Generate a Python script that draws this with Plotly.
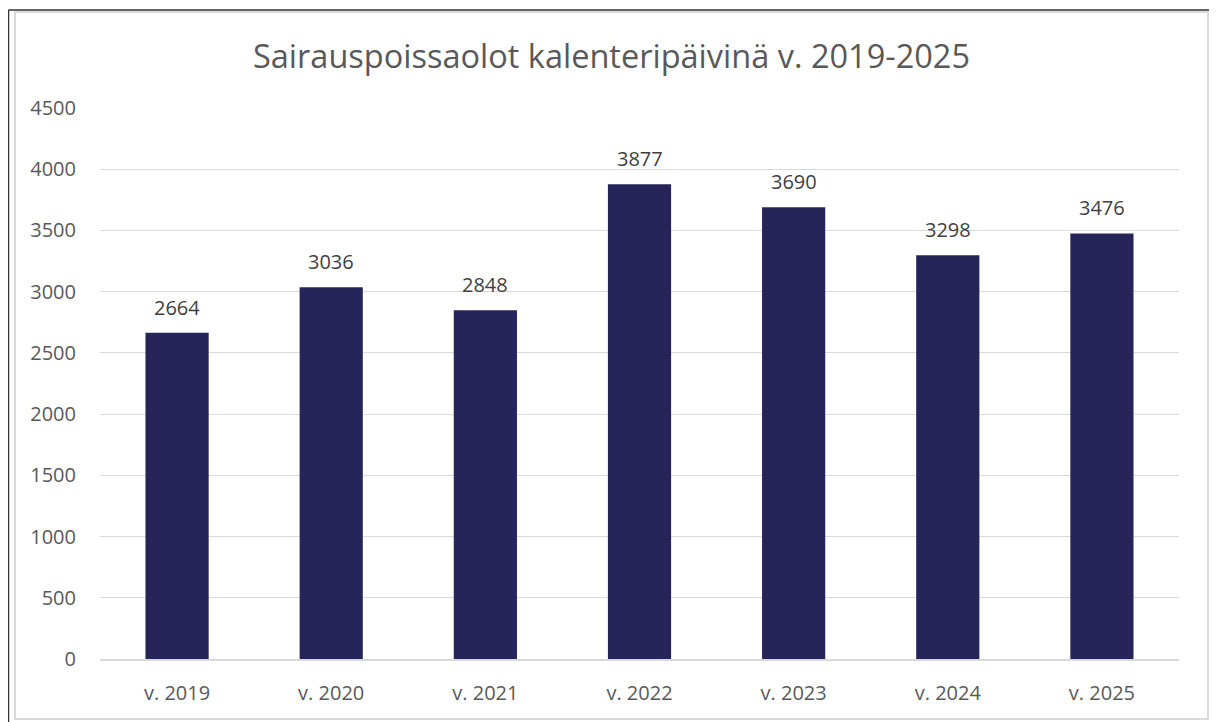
import plotly.graph_objects as go

categories = ["v. 2019", "v. 2020", "v. 2021", "v. 2022", "v. 2023", "v. 2024", "v. 2025"]
values = [2664, 3036, 2848, 3877, 3690, 3298, 3476]
y_ticks = [0, 500, 1000, 1500, 2000, 2500, 3000, 3500, 4000, 4500]
title_text = "Sairauspoissaolot kalenteripäivinä v. 2019-2025"

# the page body has an 8px margin, so the figure is drawn 8px in from the window edge
OFF = 8
W, H = 1217 - OFF, 722 - OFF
ML, MR, MT, MB = 100 - OFF, 38, 108 - OFF, 63
PW, PH = W - ML - MR, H - MT - MB

def px(x):
    return (x - OFF - ML) / PW

def py(y):
    return (H - MB - (y - OFF)) / PH

FONT = "Open Sans"

fig = go.Figure()
fig.add_trace(go.Bar(
    x=categories, y=values,
    marker=dict(color="#262459", line=dict(width=0)),
    width=0.41,
    hoverinfo="x+y",
))

annotations = []
for c, v in zip(categories, values):
    annotations.append(dict(
        x=c, y=v, xref="x", yref="y", text=str(v), showarrow=False,
        yanchor="bottom", yshift=10,
        font=dict(family=FONT, size=20, color="#404040"),
    ))

shapes = [
    # inner light frame
    dict(type="rect", xref="paper", yref="paper",
         x0=px(15), x1=px(1208), y0=py(719), y1=py(12),
         line=dict(color="#d9d9d9", width=2), fillcolor="rgba(0,0,0,0)", layer="below"),
    # dark top and left lines
    dict(type="line", xref="paper", yref="paper",
         x0=px(OFF + 0.5), x1=px(1217), y0=py(OFF + 2), y1=py(OFF + 2),
         line=dict(color="#333333", width=1.5)),
    dict(type="line", xref="paper", yref="paper",
         x0=px(OFF + 0.5), x1=px(OFF + 0.5), y0=py(OFF + 2), y1=py(722),
         line=dict(color="#333333", width=1.5)),
]

fig.update_layout(
    width=W, height=H,
    margin=dict(l=ML, r=MR, t=MT, b=MB),
    paper_bgcolor="white", plot_bgcolor="white",
    title=dict(text=title_text, x=(611.5 - OFF) / W, xanchor="center", xref="container",
               y=1 - (57 - OFF) / H, yanchor="middle",
               font=dict(family=FONT, size=32.5, color="#595959")),
    showlegend=False,
    bargap=0.59,
    xaxis=dict(
        tickfont=dict(family=FONT, size=20, color="#595959"),
        showgrid=False, showline=True, linecolor="#d9d9d9", linewidth=1.5,
        ticks="", ticklabelstandoff=15,
    ),
    yaxis=dict(
        range=[0, 4500], tickvals=y_ticks,
        tickfont=dict(family=FONT, size=20, color="#595959"),
        showgrid=True, gridcolor="#d9d9d9", gridwidth=1.2,
        zeroline=False, showline=False, ticks="", ticklabelstandoff=23,
    ),
    annotations=annotations,
    shapes=shapes,
)

fig.write_html("out.html")
